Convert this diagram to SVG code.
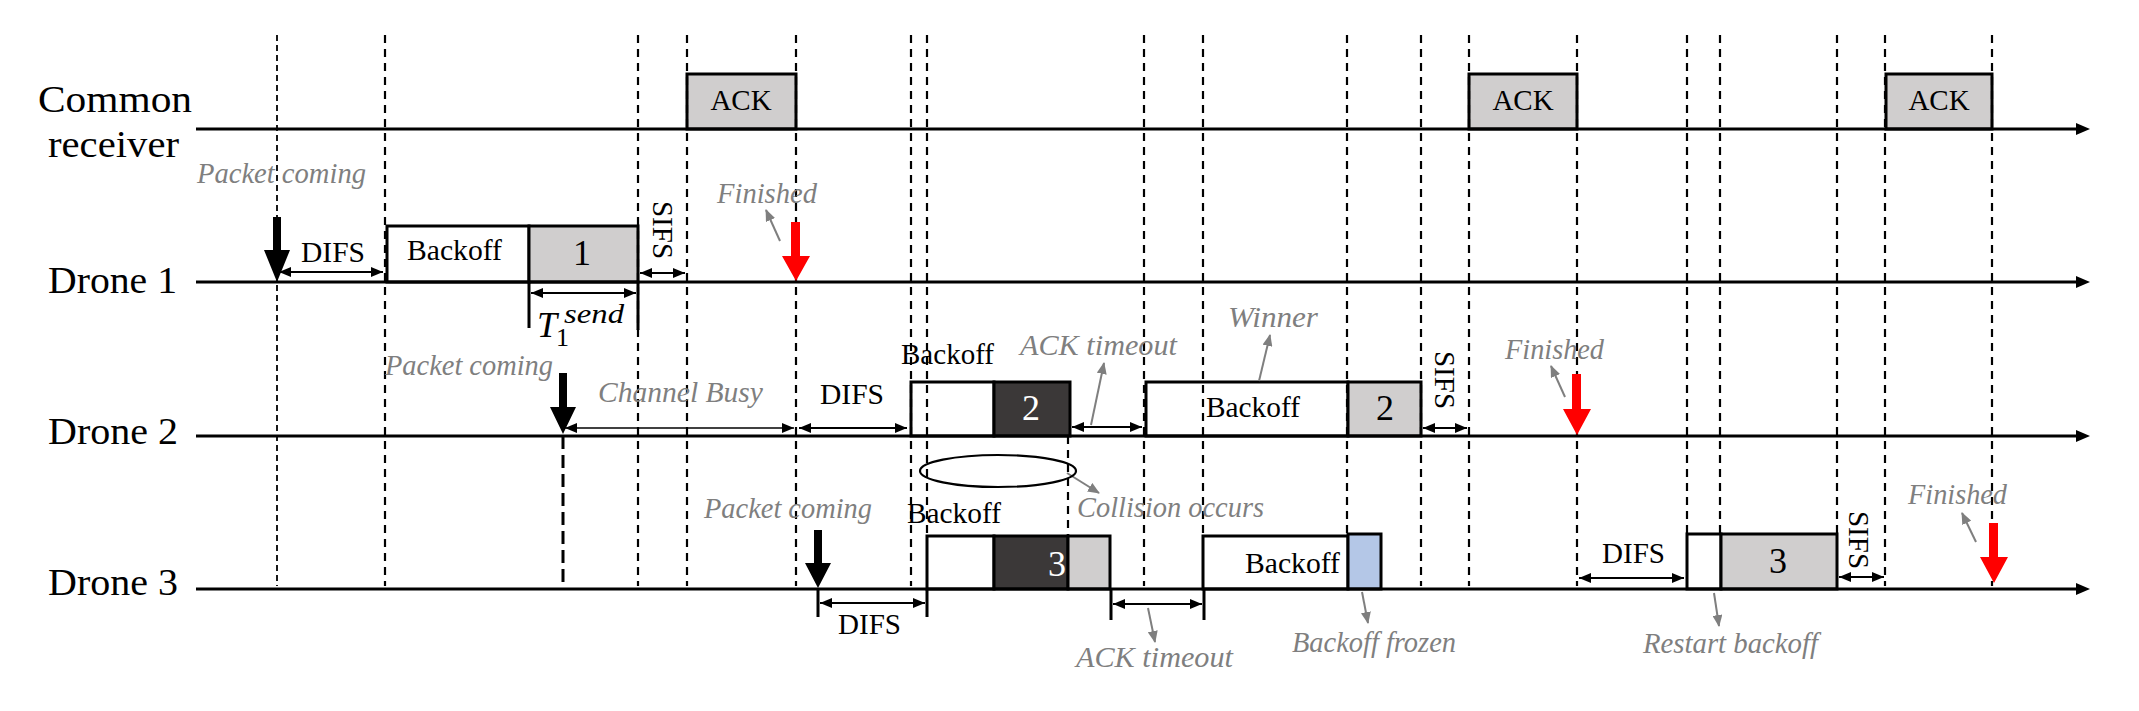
<svg xmlns="http://www.w3.org/2000/svg" width="2139" height="711" viewBox="0 0 2139 711">
<style>
.lbl{font-family:"Liberation Serif","Times New Roman",serif;fill:#000}
.big{font-size:38px}
.mid{font-size:29px}
.num{font-size:36px}
.note{font-family:"Liberation Serif","Times New Roman",serif;font-style:italic;font-size:29px;fill:#7f7f7f}
.tl{stroke:#000;stroke-width:3;fill:none}
.dash{stroke:#000;stroke-width:2.2;stroke-dasharray:8 6;fill:none}
.box{stroke:#000;stroke-width:3}
.w{fill:#fff}
.g{fill:#d0cece}
.d{fill:#3b3838}
.b{fill:#b4c7e7}
.dbl{stroke:#000;stroke-width:2.2;fill:none;marker-start:url(#ah);marker-end:url(#ah)}
.brk{stroke:#000;stroke-width:3;fill:none}
.garr{stroke:#7f7f7f;stroke-width:2;fill:none;marker-end:url(#gh)}
</style>
<defs>
<marker id="ah" markerUnits="userSpaceOnUse" markerWidth="12" markerHeight="10" refX="12" refY="5" orient="auto-start-reverse">
<path d="M0,0 L12,5 L0,10 z" fill="#000"/>
</marker>
<marker id="gh" markerUnits="userSpaceOnUse" markerWidth="12" markerHeight="10" refX="11" refY="5" orient="auto">
<path d="M0,0 L12,5 L0,10 z" fill="#7f7f7f"/>
</marker>
</defs>

<g id="row-labels">
<text class="lbl big" x="38" y="112" textLength="154" lengthAdjust="spacingAndGlyphs">Common</text>
<text class="lbl big" x="48" y="157" textLength="131" lengthAdjust="spacingAndGlyphs">receiver</text>
<text class="lbl big" x="48" y="293" textLength="129" lengthAdjust="spacingAndGlyphs">Drone 1</text>
<text class="lbl big" x="48" y="444" textLength="130" lengthAdjust="spacingAndGlyphs">Drone 2</text>
<text class="lbl big" x="48" y="595" textLength="130" lengthAdjust="spacingAndGlyphs">Drone 3</text>
</g>

<g id="nodes">
<g id="ack1"><rect class="box g" x="687" y="74" width="109" height="55"/><text class="lbl mid" x="741" y="110" text-anchor="middle">ACK</text></g>
<g id="ack2"><rect class="box g" x="1469" y="74" width="108" height="55"/><text class="lbl mid" x="1523" y="110" text-anchor="middle">ACK</text></g>
<g id="ack3"><rect class="box g" x="1886" y="74" width="106" height="55"/><text class="lbl mid" x="1939" y="110" text-anchor="middle">ACK</text></g>

<g id="d1-frame">
<rect class="box w" x="387" y="226" width="142" height="56"/>
<text class="lbl mid" x="407" y="260" textLength="95" lengthAdjust="spacingAndGlyphs">Backoff</text>
<rect class="box g" x="529" y="226" width="109" height="56"/>
<text class="lbl num" x="582" y="265" text-anchor="middle">1</text>
</g>

<g id="d2-frame1">
<rect class="box w" x="911" y="382" width="83" height="54"/>
<rect class="box d" x="994" y="382" width="76" height="54"/>
<text class="lbl num" x="1031" y="420" text-anchor="middle" fill="#fff" style="fill:#fff">2</text>
</g>
<g id="d2-frame2">
<rect class="box w" x="1146" y="382" width="202" height="54"/>
<text class="lbl mid" x="1206" y="417" textLength="94" lengthAdjust="spacingAndGlyphs">Backoff</text>
<rect class="box g" x="1348" y="382" width="73" height="54"/>
<text class="lbl num" x="1385" y="420" text-anchor="middle">2</text>
</g>

<g id="d3-frame1">
<rect class="box w" x="927" y="536" width="67" height="53"/>
<rect class="box d" x="994" y="536" width="74" height="53"/>
<rect class="box g" x="1068" y="536" width="42" height="53"/>
<text class="lbl num" x="1057" y="576" text-anchor="middle" style="fill:#fff">3</text>
</g>
<g id="d3-frame2">
<rect class="box w" x="1203" y="536" width="145" height="53"/>
<text class="lbl mid" x="1245" y="573" textLength="95" lengthAdjust="spacingAndGlyphs">Backoff</text>
<rect class="box b" x="1348" y="534" width="33" height="55"/>
</g>
<g id="d3-frame3">
<rect class="box w" x="1687" y="534" width="34" height="55"/>
<rect class="box g" x="1721" y="534" width="116" height="55"/>
<text class="lbl num" x="1778" y="573" text-anchor="middle">3</text>
</g>
</g>

<g id="connectors">
<!-- dashed time markers -->
<line class="dash" style="stroke-width:1.8;stroke-dasharray:6 4" x1="277" y1="35" x2="277" y2="586"/>
<line class="dash" x1="385" y1="35" x2="385" y2="586"/>
<line class="dash" x1="638" y1="35" x2="638" y2="586"/>
<line class="dash" x1="687" y1="35" x2="687" y2="586"/>
<line class="dash" x1="796" y1="35" x2="796" y2="586"/>
<line class="dash" x1="911" y1="35" x2="911" y2="586"/>
<line class="dash" x1="927" y1="35" x2="927" y2="536"/>
<line class="dash" x1="1068" y1="436" x2="1068" y2="536"/>
<line class="dash" x1="1144" y1="35" x2="1144" y2="586"/>
<line class="dash" x1="1203" y1="35" x2="1203" y2="536"/>
<line class="dash" x1="1347" y1="35" x2="1347" y2="534"/>
<line class="dash" x1="1421" y1="35" x2="1421" y2="586"/>
<line class="dash" x1="1469" y1="35" x2="1469" y2="586"/>
<line class="dash" x1="1577" y1="35" x2="1577" y2="586"/>
<line class="dash" x1="1687" y1="35" x2="1687" y2="534"/>
<line class="dash" x1="1720" y1="35" x2="1720" y2="534"/>
<line class="dash" x1="1837" y1="35" x2="1837" y2="534"/>
<line class="dash" x1="1885" y1="35" x2="1885" y2="586"/>
<line class="dash" x1="1992" y1="35" x2="1992" y2="586"/>
<line class="dash" style="stroke-width:3;stroke-dasharray:13 6" x1="563" y1="436" x2="563" y2="589"/>

<!-- timelines -->
<line class="tl" x1="196" y1="129" x2="2078" y2="129"/><path d="M2076,123 L2090,129 L2076,135 z"/>
<line class="tl" x1="196" y1="282" x2="2078" y2="282"/><path d="M2076,276 L2090,282 L2076,288 z"/>
<line class="tl" x1="196" y1="436" x2="2078" y2="436"/><path d="M2076,430 L2090,436 L2076,442 z"/>
<line class="tl" x1="196" y1="589" x2="2078" y2="589"/><path d="M2076,583 L2090,589 L2076,595 z"/>

<!-- brackets -->
<path class="brk" d="M529,282 V328 M638,282 V330"/>
<path class="brk" d="M818,589 V617 M927,589 V617"/>
<path class="brk" d="M1111,589 V620 M1204,589 V620"/>

<!-- double arrows -->
<line class="dbl" x1="279" y1="272" x2="383" y2="272"/>
<line class="dbl" x1="640" y1="273" x2="685" y2="273"/>
<line class="dbl" x1="531" y1="293" x2="636" y2="293"/>
<line class="dbl" style="stroke-width:1.6" x1="565" y1="428" x2="794" y2="428"/>
<line class="dbl" x1="799" y1="428" x2="907" y2="428"/>
<line class="dbl" x1="1072" y1="427" x2="1142" y2="427"/>
<line class="dbl" x1="1423" y1="428" x2="1467" y2="428"/>
<line class="dbl" x1="820" y1="603" x2="925" y2="603"/>
<line class="dbl" x1="1113" y1="604" x2="1202" y2="604"/>
<line class="dbl" x1="1579" y1="578" x2="1684" y2="578"/>
<line class="dbl" x1="1839" y1="577" x2="1884" y2="577"/>

<!-- packet coming arrows -->
<path d="M273,217 H281 V250 H290 L277,282 L264,250 H273 z" fill="#000"/>
<path d="M559,373 H567 V407 H576 L563,434 L550,407 H559 z" fill="#000"/>
<path d="M814,530 H822 V563 H831 L818,588 L805,563 H814 z" fill="#000"/>

<!-- finished arrows -->
<path d="M791,222 H800 V256 H810 L796,281 L782,256 H791 z" fill="#ff0000"/>
<path d="M1572,374 H1581 V409 H1591 L1577,435 L1563,409 H1572 z" fill="#ff0000"/>
<path d="M1989,523 H1998 V557 H2008 L1994,583 L1980,557 H1989 z" fill="#ff0000"/>

<!-- gray pointer arrows -->
<line class="garr" x1="780" y1="241" x2="766" y2="210"/>
<line class="garr" x1="1565" y1="397" x2="1551" y2="366"/>
<line class="garr" x1="1976" y1="542" x2="1962" y2="513"/>
<line class="garr" x1="1091" y1="425" x2="1104" y2="363"/>
<line class="garr" x1="1259" y1="381" x2="1270" y2="335"/>
<line class="garr" x1="1067" y1="473" x2="1099" y2="493"/>
<line class="garr" x1="1148" y1="608" x2="1155" y2="642"/>
<line class="garr" x1="1362" y1="592" x2="1368" y2="623"/>
<line class="garr" x1="1714" y1="593" x2="1719" y2="626"/>

<ellipse cx="998" cy="471" rx="78" ry="16" fill="none" stroke="#000" stroke-width="2.2"/>
</g>

<g id="annotations">
<text class="lbl mid" x="301" y="262" textLength="64" lengthAdjust="spacingAndGlyphs">DIFS</text>
<text class="lbl mid" x="820" y="404" textLength="64" lengthAdjust="spacingAndGlyphs">DIFS</text>
<text class="lbl mid" x="838" y="634" textLength="63" lengthAdjust="spacingAndGlyphs">DIFS</text>
<text class="lbl mid" x="1602" y="563" textLength="63" lengthAdjust="spacingAndGlyphs">DIFS</text>
<text class="lbl mid" x="901" y="364" textLength="93" lengthAdjust="spacingAndGlyphs">Backoff</text>
<text class="lbl mid" x="907" y="523" textLength="94" lengthAdjust="spacingAndGlyphs">Backoff</text>
<text class="lbl mid" transform="translate(653,230) rotate(90)" text-anchor="middle">SIFS</text>
<text class="lbl mid" transform="translate(1435,380) rotate(90)" text-anchor="middle">SIFS</text>
<text class="lbl mid" transform="translate(1849,540) rotate(90)" text-anchor="middle">SIFS</text>

<text class="lbl" x="537" y="337" style="font-size:36px;font-style:italic">T</text>
<text class="lbl" x="556" y="346" style="font-size:26px">1</text>
<text class="lbl" x="564" y="323" style="font-size:28px;font-style:italic" textLength="60" lengthAdjust="spacingAndGlyphs">send</text>

<text class="note" x="197" y="183" textLength="169" lengthAdjust="spacingAndGlyphs">Packet coming</text>
<text class="note" x="385" y="375" textLength="168" lengthAdjust="spacingAndGlyphs">Packet coming</text>
<text class="note" x="704" y="518" textLength="168" lengthAdjust="spacingAndGlyphs">Packet coming</text>
<text class="note" x="598" y="402" textLength="165" lengthAdjust="spacingAndGlyphs">Channel Busy</text>
<text class="note" x="717" y="203" textLength="100" lengthAdjust="spacingAndGlyphs">Finished</text>
<text class="note" x="1505" y="359" textLength="99" lengthAdjust="spacingAndGlyphs">Finished</text>
<text class="note" x="1908" y="504" textLength="99" lengthAdjust="spacingAndGlyphs">Finished</text>
<text class="note" x="1020" y="355" textLength="157" lengthAdjust="spacingAndGlyphs">ACK timeout</text>
<text class="note" x="1076" y="667" textLength="157" lengthAdjust="spacingAndGlyphs">ACK timeout</text>
<text class="note" x="1228" y="327" textLength="90" lengthAdjust="spacingAndGlyphs">Winner</text>
<text class="note" x="1077" y="517" textLength="187" lengthAdjust="spacingAndGlyphs">Collision occurs</text>
<text class="note" x="1292" y="652" textLength="164" lengthAdjust="spacingAndGlyphs">Backoff frozen</text>
<text class="note" x="1643" y="653" textLength="175" lengthAdjust="spacingAndGlyphs">Restart backoff</text>
</g>
</svg>
